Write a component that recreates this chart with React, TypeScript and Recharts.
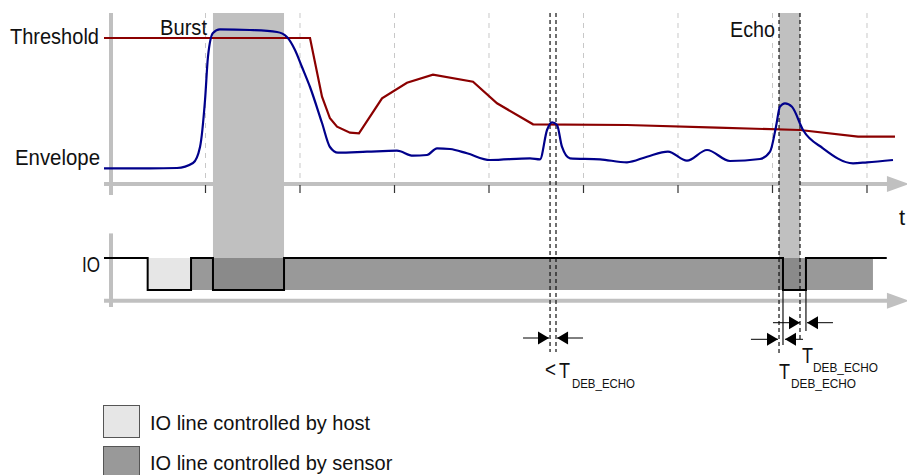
import React from 'react';
import { ComposedChart, Line, XAxis, YAxis, ReferenceArea, ReferenceLine, ReferenceDot } from 'recharts';

// time axis in grid units (one dashed grid step = 1), amplitude in threshold units
const envelope = [
  { t: -0.074, v: 1.075 }, { t: 0.413, v: 1.075 }, { t: 0.698, v: 1.096 }, { t: 0.868, v: 1.438 },
  { t: 0.942, v: 2.534 }, { t: 0.995, v: 5.753 }, { t: 1.026, v: 8.699 }, { t: 1.079, v: 10.342 },
  { t: 1.153, v: 10.596 }, { t: 1.471, v: 10.548 }, { t: 1.757, v: 10.411 }, { t: 1.862, v: 10.068 },
  { t: 1.947, v: 9.178 }, { t: 2.021, v: 8.014 }, { t: 2.106, v: 6.644 }, { t: 2.233, v: 4.178 },
  { t: 2.317, v: 2.534 }, { t: 2.402, v: 2.144 }, { t: 2.709, v: 2.212 }, { t: 3.026, v: 2.281 },
  { t: 3.196, v: 1.938 }, { t: 3.344, v: 1.986 }, { t: 3.45, v: 2.445 }, { t: 3.587, v: 2.397 },
  { t: 3.767, v: 2.103 }, { t: 4.011, v: 1.644 }, { t: 4.434, v: 1.76 }, { t: 4.54, v: 1.692 },
  { t: 4.614, v: 3.699 }, { t: 4.667, v: 4.226 }, { t: 4.72, v: 4.041 }, { t: 4.772, v: 2.555 },
  { t: 4.857, v: 1.76 }, { t: 5.175, v: 1.692 }, { t: 5.46, v: 1.486 }, { t: 5.672, v: 1.87 },
  { t: 5.894, v: 2.212 }, { t: 6.095, v: 1.596 }, { t: 6.307, v: 2.329 }, { t: 6.55, v: 1.575 },
  { t: 6.868, v: 1.712 }, { t: 6.974, v: 2.212 }, { t: 7.037, v: 3.925 }, { t: 7.079, v: 5.295 },
  { t: 7.132, v: 5.527 }, { t: 7.206, v: 5.295 }, { t: 7.323, v: 3.699 }, { t: 7.534, v: 2.445 },
  { t: 7.852, v: 1.418 }, { t: 8.0, v: 1.486 }, { t: 8.275, v: 1.644 },
];

const threshold = [
  { t: -0.074, v: 10 }, { t: 2.106, v: 10 }, { t: 2.233, v: 5.979 }, { t: 2.317, v: 4.5 },
  { t: 2.392, v: 3.925 }, { t: 2.529, v: 3.514 }, { t: 2.624, v: 3.473 }, { t: 2.868, v: 5.87 },
  { t: 3.132, v: 6.938 }, { t: 3.407, v: 7.486 }, { t: 3.831, v: 7.007 }, { t: 4.085, v: 5.527 },
  { t: 4.466, v: 4.089 }, { t: 5.46, v: 4.041 }, { t: 6.413, v: 3.856 }, { t: 7.291, v: 3.699 },
  { t: 7.905, v: 3.24 }, { t: 8.296, v: 3.24 },
];

const ioSignal = [
  { t: -0.074, v: 1 }, { t: 0.388, v: 0 }, { t: 0.847, v: 1 }, { t: 1.079, v: 0 },
  { t: 1.831, v: 1 }, { t: 7.111, v: 0 }, { t: 7.354, v: 1 }, { t: 8.209, v: 1 },
];

const gridTimes = [1, 2, 3, 4, 5, 6, 7, 8];
const burstWindow = [1.079, 1.831];
const echoWindow = [7.069, 7.291];
const hostDrive = [0.392, 0.847];
const sensorDrive = [0.847, 8.063];

// vertical marker lines: time, top, bottom (amplitude units), dashed?
const markers = [
  { t: 4.646, top: 11.712, bottom: -11.507, dashed: true },
  { t: 4.709, top: 11.712, bottom: -11.507, dashed: true },
  { t: 7.069, top: 11.712, bottom: -11.575, dashed: true },
  { t: 7.291, top: 11.712, bottom: -10.822, dashed: true },
  { t: 7.111, top: -7.26, bottom: -11.027, dashed: false },
  { t: 7.354, top: -7.26, bottom: -10.068, dashed: false },
];

// measurement arrows: shaft start, arrow tip, level
const arrows = [
  { from: 4.36, to: 4.635, v: -10.548 },
  { from: 4.995, to: 4.72, v: -10.548 },
  { from: 7.005, to: 7.291, v: -9.5 },
  { from: 7.64, to: 7.365, v: -9.5 },
  { from: 6.772, to: 7.058, v: -10.637 },
  { from: 7.323, to: 7.132, v: -10.637 },
];

const labels = [
  { t: -1.069, v: 9.589, text: 'Threshold', size: 22, len: 89 },
  { t: -1.016, v: 1.301, text: 'Envelope', size: 22, len: 85 },
  { t: 0.519, v: 10.205, text: 'Burst', size: 22, len: 47 },
  { t: 6.55, v: 10.068, text: 'Echo', size: 22, len: 45 },
  { t: -0.307, v: -6.027, text: 'IO', size: 22, len: 18 },
  { t: 8.339, v: -2.808, text: 't', size: 22, len: 0 },
  { t: 4.593, v: -13.219, text: '<', size: 22, len: 11 },
  { t: 4.741, v: -13.288, text: 'T', size: 22, len: 11 },
  { t: 4.878, v: -13.973, text: 'DEB_ECHO', size: 13, len: 63 },
  { t: 7.312, v: -12.26, text: 'T', size: 22, len: 11 },
  { t: 7.429, v: -12.877, text: 'DEB_ECHO', size: 13, len: 65 },
  { t: 7.069, v: -13.356, text: 'T', size: 22, len: 11 },
  { t: 7.196, v: -13.973, text: 'DEB_ECHO', size: 13, len: 65 },
];

const legendItems = [
  { label: 'IO line controlled by host', fill: '#e6e6e6' },
  { label: 'IO line controlled by sensor', fill: '#999999' },
];

const FONT = '"Liberation Sans", Arial, Helvetica, sans-serif';
const AX = '#c0c0c0';
const AMP_DOMAIN = [-19.9315, 12.6027];
const IO_DOMAIN = [-5.78125, 9.0625];
const T_DOMAIN = [-1.1746, 8.4233];

export default function App() {
  return (
    <div style={{ position: 'absolute', left: 0, top: 0, width: 907, height: 475, background: '#fff' }}>
      <ComposedChart width={907} height={475} margin={{ top: 0, right: 0, bottom: 0, left: 0 }}>
        <XAxis type="number" dataKey="t" domain={T_DOMAIN} allowDataOverflow hide />
        <YAxis yAxisId="amp" type="number" domain={AMP_DOMAIN} allowDataOverflow hide />
        <YAxis yAxisId="io" type="number" domain={IO_DOMAIN} allowDataOverflow hide />

        <ReferenceArea yAxisId="io" x1={hostDrive[0]} x2={hostDrive[1]} y1={0} y2={1} fill="#e6e6e6" fillOpacity={1} stroke="none" />
        <ReferenceArea yAxisId="io" x1={sensorDrive[0]} x2={sensorDrive[1]} y1={0} y2={1} fill="#999999" fillOpacity={1} stroke="none" />
        <ReferenceArea yAxisId="amp" x1={burstWindow[0]} x2={burstWindow[1]} y1={-5.068} y2={11.712} fill="#c0c0c0" fillOpacity={1} stroke="none" />
        <ReferenceArea yAxisId="io" x1={burstWindow[0]} x2={burstWindow[1]} y1={0} y2={1} fill="#8a8a8a" fillOpacity={1} stroke="none" />
        <ReferenceArea yAxisId="amp" x1={echoWindow[0]} x2={echoWindow[1]} y1={-5.068} y2={11.712} fill="#c0c0c0" fillOpacity={1} stroke="none" />
        <ReferenceArea yAxisId="io" x1={echoWindow[0]} x2={echoWindow[1]} y1={0} y2={1} fill="#8a8a8a" fillOpacity={1} stroke="none" />

        {gridTimes.map((g) => (
          <ReferenceLine key={'g' + g} yAxisId="amp" segment={[{ x: g, y: 11.712 }, { x: g, y: 0 }]} stroke="#c8c8c8" strokeWidth={1} strokeDasharray="5 5" ifOverflow="visible" />
        ))}

        {/* axes */}
        <ReferenceLine yAxisId="amp" segment={[{ x: 0, y: 11.712 }, { x: 0, y: -0.753 }]} stroke={AX} strokeWidth={4} ifOverflow="visible" />
        <ReferenceLine yAxisId="amp" segment={[{ x: -0.074, y: 0 }, { x: 8.22, y: 0 }]} stroke={AX} strokeWidth={4} ifOverflow="visible" />
        <ReferenceLine yAxisId="amp" segment={[{ x: 0, y: -3.384 }, { x: 0, y: -8.425 }]} stroke={AX} strokeWidth={4} ifOverflow="visible" />
        <ReferenceLine yAxisId="amp" segment={[{ x: -0.074, y: -7.993 }, { x: 8.22, y: -7.993 }]} stroke={AX} strokeWidth={4} ifOverflow="visible" />
        {[0, -7.993].map((lv) => (
          <ReferenceDot key={'ah' + lv} yAxisId="amp" x={8.444} y={lv} r={0} ifOverflow="visible"
            shape={(p: any) => <polygon points={`${p.cx},${p.cy} ${p.cx - 22},${p.cy - 8} ${p.cx - 22},${p.cy + 8}`} fill={AX} />} />
        ))}
        {gridTimes.map((g) => (
          <ReferenceLine key={'tk' + g} yAxisId="amp" segment={[{ x: g, y: -0.068 }, { x: g, y: -0.616 }]} stroke="#333" strokeWidth={1.2} ifOverflow="visible" />
        ))}

        {markers.map((m, i) => (
          <ReferenceLine key={'m' + i} yAxisId="amp" segment={[{ x: m.t, y: m.top }, { x: m.t, y: m.bottom }]} stroke="#111" strokeWidth={1.2} strokeDasharray={m.dashed ? '4 3' : undefined} ifOverflow="visible" />
        ))}

        <Line yAxisId="amp" data={threshold} dataKey="v" type="linear" stroke="#8b0000" strokeWidth={2.2} dot={false} activeDot={false} isAnimationActive={false} />
        <Line yAxisId="amp" data={envelope} dataKey="v" type="monotone" stroke="#00008b" strokeWidth={2.2} dot={false} activeDot={false} isAnimationActive={false} />
        <Line yAxisId="io" data={ioSignal} dataKey="v" type="stepAfter" stroke="#000" strokeWidth={2} dot={false} activeDot={false} isAnimationActive={false} />

        {arrows.map((a, i) => (
          <ReferenceLine key={'as' + i} yAxisId="amp" segment={[{ x: a.from, y: a.v }, { x: a.to, y: a.v }]} stroke="#000" strokeWidth={1} ifOverflow="visible" />
        ))}
        {arrows.map((a, i) => {
          const dir = a.to > a.from ? -1 : 1;
          return (
            <ReferenceDot key={'ad' + i} yAxisId="amp" x={a.to} y={a.v} r={0} ifOverflow="visible"
              shape={(p: any) => <polygon points={`${p.cx},${p.cy} ${p.cx + dir * 11},${p.cy - 6.5} ${p.cx + dir * 11},${p.cy + 6.5}`} fill="#000" />} />
          );
        })}

        {labels.map((l, i) => (
          <ReferenceDot key={'l' + i} yAxisId="amp" x={l.t} y={l.v} r={0} ifOverflow="visible"
            shape={(p: any) => (
              <text x={p.cx} y={p.cy} fontFamily={FONT} fontSize={l.size} fill="#111"
                {...(l.len ? { textLength: l.len, lengthAdjust: 'spacingAndGlyphs' } : {})}>{l.text}</text>
            )} />
        ))}
      </ComposedChart>
      <svg width={907} height={475} style={{ position: 'absolute', left: 0, top: 0, pointerEvents: 'none' }}>
        {legendItems.map((it, i) => (
          <g key={it.label}>
            <rect x={103.5} y={405.5 + i * 41} width={36} height={32} fill={it.fill} stroke="#555" strokeWidth={1} />
            <text x={150} y={430 + i * 40} fontFamily={FONT} fontSize={20} fill="#111">{it.label}</text>
          </g>
        ))}
      </svg>
    </div>
  );
}
